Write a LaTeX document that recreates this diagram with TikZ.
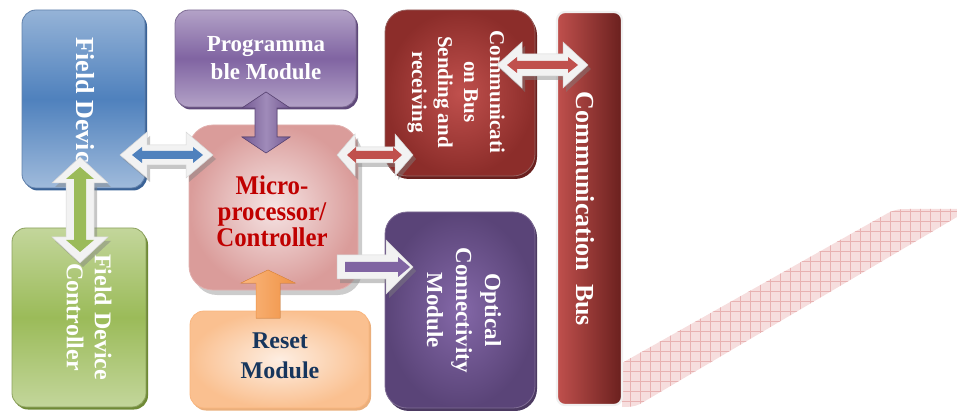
\documentclass[tikz,border=0pt]{standalone}
\usepackage{fontspec}
\setmainfont{Liberation Serif}
\usetikzlibrary{calc,shadows,patterns.meta}

\definecolor{fdblue}{HTML}{4F81BD}
\definecolor{fdbluel}{HTML}{95B3D7}
\definecolor{fdblued}{HTML}{3A6296}
\definecolor{grn}{HTML}{9BBB59}
\definecolor{grnl}{HTML}{C3D69B}
\definecolor{grnd}{HTML}{6F8A36}
\definecolor{pur}{HTML}{8064A2}
\definecolor{purl}{HTML}{B3A2C7}
\definecolor{purd}{HTML}{5F497A}
\definecolor{pinkl}{HTML}{F5E4E4}
\definecolor{pinkd}{HTML}{DA9C9A}
\definecolor{peachl}{HTML}{FDEEE2}
\definecolor{peachd}{HTML}{FAC090}
\definecolor{orng}{HTML}{F79646}
\definecolor{orngl}{HTML}{FBB77E}
\definecolor{redm}{HTML}{C0504D}
\definecolor{redd}{HTML}{8C2D2A}
\definecolor{redk}{HTML}{6A201E}
\definecolor{opin}{HTML}{8468A8}
\definecolor{opout}{HTML}{5A4478}
\definecolor{mptext}{HTML}{C00000}
\definecolor{navy}{HTML}{17365D}
\definecolor{arrw}{HTML}{F2F2F2}
\definecolor{arrwd}{HTML}{D6D6D6}
\definecolor{bandf}{HTML}{F6DEDE}
\definecolor{bandl}{HTML}{E8B2B2}

\newcommand{\HDbl}[6]{\fill[#6] let \p1=(#1),\p2=(#2) in (\p1) -- (\x1+#5,\y1+#4) -- (\x1+#5,\y1+#3) -- (\x2-#5,\y1+#3) -- (\x2-#5,\y1+#4) -- (\x2,\y1) -- (\x2-#5,\y1-#4) -- (\x2-#5,\y1-#3) -- (\x1+#5,\y1-#3) -- (\x1+#5,\y1-#4) -- cycle;}
\newcommand{\VDbl}[6]{\fill[#6] let \p1=(#1),\p2=(#2) in (\p1) -- (\x1+#4,\y1-#5) -- (\x1+#3,\y1-#5) -- (\x1+#3,\y2+#5) -- (\x1+#4,\y2+#5) -- (\x1,\y2) -- (\x1-#4,\y2+#5) -- (\x1-#3,\y2+#5) -- (\x1-#3,\y1-#5) -- (\x1-#4,\y1-#5) -- cycle;}
\newcommand{\HSgl}[6]{\fill[#6] let \p1=(#1),\p2=(#2) in (\x1,\y1+#3) -- (\x2-#5,\y1+#3) -- (\x2-#5,\y1+#4) -- (\x2,\y1) -- (\x2-#5,\y1-#4) -- (\x2-#5,\y1-#3) -- (\x1,\y1-#3) -- cycle;}
\newcommand{\VSgl}[6]{\fill[#6] let \p1=(#1),\p2=(#2) in (\x1-#3,\y1) -- (\x1-#3,\y2-#5) -- (\x1-#4,\y2-#5) -- (\x1,\y2) -- (\x1+#4,\y2-#5) -- (\x1+#3,\y2-#5) -- (\x1+#3,\y1) -- cycle;}

\tikzset{
  box/.style={rectangle, rounded corners=14pt, line width=0.8pt, inner sep=0pt},
  txt/.style={align=center, inner sep=0pt, font=\bfseries},
  arrout/.style={fill=arrw, draw=arrwd, line width=0.5pt,
    drop shadow={shadow xshift=3pt, shadow yshift=-4pt, fill=gray, opacity=0.45}},
}

\begin{document}
\begin{tikzpicture}[x=1pt, y=-1pt]
\useasboundingbox (0,0) rectangle (957,411);

% hatched band
\path[fill=bandf,
  postaction={pattern={Lines[distance=10pt,angle=0,line width=0.5pt]}, pattern color=bandl},
  postaction={pattern={Lines[distance=10pt,angle=90,line width=0.5pt]}, pattern color=bandl}]
  (622,363) -- (888,213) .. controls (896,209) and (900,209) .. (910,209) -- (957,209)
  -- (957,217) -- (640,404) .. controls (634,407) and (628,407) .. (622,407) -- cycle;

% boxes
\node[box, draw=fdblued!80, top color=fdbluel, bottom color=fdbluel!90, middle color=fdblue,
  drop shadow={shadow xshift=2pt, shadow yshift=-2.5pt, fill=fdblued, opacity=1},
  minimum width=123pt, minimum height=178pt] (fd) at (83.5,99) {};
\node[box, draw=grnd!80, top color=grnl, bottom color=grnl, middle color=grn,
  drop shadow={shadow xshift=2pt, shadow yshift=-2.5pt, fill=grnd, opacity=1},
  minimum width=134pt, minimum height=179pt] (fdc) at (79,317.5) {};
\node[box, draw=purd!80, top color=purl, bottom color=purl, middle color=pur,
  drop shadow={shadow xshift=2pt, shadow yshift=-2.5pt, fill=purd, opacity=1},
  minimum width=181pt, minimum height=97pt] (prog) at (265.5,58.5) {};
\node[box, rounded corners=24pt, draw=pinkd!80, inner color=pinkl, outer color=pinkd,
  drop shadow={shadow xshift=4pt, shadow yshift=-5pt, fill=gray, opacity=0.4},
  minimum width=169pt, minimum height=165pt] (mp) at (273.5,207.5) {};
\node[box, draw=orng!70, inner color=peachl, outer color=peachd,
  drop shadow={shadow xshift=2pt, shadow yshift=-2.5pt, fill=orng!60!brown, opacity=0.7},
  minimum width=179pt, minimum height=97pt] (reset) at (279.5,359.5) {};
\node[box, rounded corners=22pt, draw=redk!70, inner color=redm, outer color=redd,
  drop shadow={shadow xshift=2pt, shadow yshift=-3pt, fill=redk, opacity=1},
  minimum width=150pt, minimum height=166pt] (comm) at (460,93) {};
\node[box, rounded corners=22pt, draw=purd!80, inner color=opin, outer color=opout,
  drop shadow={shadow xshift=2pt, shadow yshift=-3pt, fill=purd!80!black, opacity=1},
  minimum width=150pt, minimum height=196pt] (opt) at (460,310) {};
\node[box, rounded corners=8pt, draw=gray!12, line width=2.2pt, left color=redm, right color=redk,
  minimum width=65pt, minimum height=393pt] (bus) at (589.5,208.5) {};

% texts
\node[txt, white, rotate=-90, font=\fontsize{26}{30}\selectfont\bfseries] (fdt) at (85,106) {Field Device};
\node[txt, white, rotate=-90, font=\fontsize{24}{28}\selectfont\bfseries] (fdct) at (89,317) {Field Device\\Controller};
\node[txt, white, font=\fontsize{23}{28}\selectfont\bfseries] (progt) at (266,58) {Programma\\ble Module};
\node[txt, mptext, xscale=0.92, font=\fontsize{27}{26}\selectfont\bfseries] (mpt) at (272,211) {Micro-\\processor/\\Controller};
\node[txt, navy, font=\fontsize{24}{30}\selectfont\bfseries] (resett) at (280,356) {Reset\\Module};
\node[txt, white, rotate=-90, font=\fontsize{21}{26}\selectfont\bfseries] (commt) at (456,92) {Communicati\\on Bus\\Sending and\\receiving};
\node[txt, white, rotate=-90, font=\fontsize{23}{29}\selectfont\bfseries] (optt) at (464,310) {Optical\\Connectivity\\Module};
\node[txt, white, rotate=-90, font=\fontsize{26}{30}\selectfont\bfseries] (bust) at (585,209) {Communication\ \ Bus};

% arrow end points
\coordinate (b1) at (120,155); \coordinate (b2) at (213,155);
\coordinate (bi1) at (132,155); \coordinate (bi2) at (203,155);
\coordinate (g1) at (80,157); \coordinate (g2) at (80,263);
\coordinate (gi1) at (80,167); \coordinate (gi2) at (80,252);
\coordinate (p1) at (266,92); \coordinate (p2) at (266,153);
\coordinate (r1) at (337,155); \coordinate (r2) at (413,155);
\coordinate (ri1) at (347,155); \coordinate (ri2) at (402,155);
\coordinate (t1) at (497,65); \coordinate (t2) at (588,65);
\coordinate (ti1) at (507,65); \coordinate (ti2) at (578,65);
\coordinate (o1) at (337,267); \coordinate (o2) at (413,267);
\coordinate (oi1) at (345,267); \coordinate (oi2) at (410,267);
\coordinate (u1) at (268,318); \coordinate (u2) at (268,270);

% arrows
\HDbl{b1}{b2}{10pt}{23pt}{27pt}{arrout}
\HDbl{bi1}{bi2}{4pt}{8pt}{10pt}{fdblue}
\VDbl{g1}{g2}{14pt}{28pt}{26pt}{arrout}
\VDbl{gi1}{gi2}{6pt}{14pt}{12pt}{grn}
\VDbl{p1}{p2}{11pt}{24pt}{16pt}{left color=pur!90!black, right color=pur!90!black, middle color=pur!75!white, draw=purd, line width=0.6pt}
\HDbl{r1}{r2}{8pt}{21pt}{18pt}{arrout}
\HDbl{ri1}{ri2}{4pt}{8pt}{9pt}{redm}
\HDbl{t1}{t2}{11pt}{23pt}{25pt}{arrout}
\HDbl{ti1}{ti2}{4pt}{8pt}{10pt}{redm}
\HSgl{o1}{o2}{12pt}{27pt}{27pt}{arrout}
\HSgl{oi1}{oi2}{5pt}{10pt}{12pt}{pur}
\VSgl{u1}{u2}{12pt}{27pt}{13pt}{left color=orngl, right color=orng!85!brown, draw=orng!80!brown, line width=0.5pt}
\end{tikzpicture}
\end{document}
